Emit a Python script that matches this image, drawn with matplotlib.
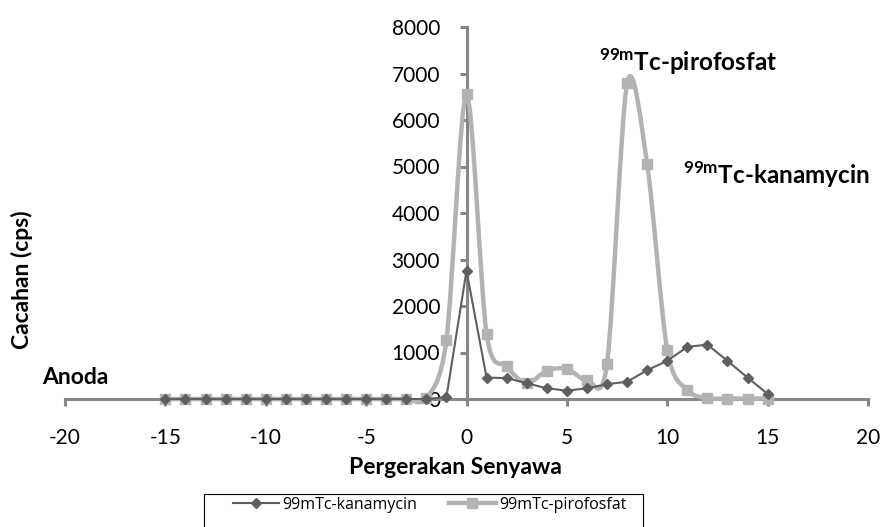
import numpy as np
import matplotlib
matplotlib.use("Agg")
import matplotlib.pyplot as plt
from matplotlib.path import Path
from matplotlib.patches import PathPatch, Rectangle
from matplotlib.lines import Line2D

# ---- data ----
positions = list(range(-15, 16))
kanamycin = [0, 0, 0, 0, 0, 0, 0, 0, 0, 0, 0, 0, 0, 0,
             40, 2760, 460, 450, 340, 230, 180, 230, 320, 370, 620, 820,
             1120, 1170, 820, 460, 110]
pirofosfat = [0, 0, 0, 0, 0, 0, 0, 0, 0, 0, 0, 0, 0,
              20, 1270, 6560, 1400, 700, 340, 610, 650, 410, 760, 6790,
              5050, 1050, 190, 20, 10, 10, 10]
x_ticks = [-20, -15, -10, -5, 0, 5, 10, 15, 20]
y_ticks = [0, 1000, 2000, 3000, 4000, 5000, 6000, 7000, 8000]
label_kan = "99mTc-kanamycin"
label_piro = "99mTc-pirofosfat"

plt.rcParams['font.family'] = ['Lato', 'DejaVu Sans']
plt.rcParams['mathtext.fontset'] = 'custom'
plt.rcParams['mathtext.bf'] = 'Lato:bold'
plt.rcParams['mathtext.rm'] = 'Lato'
plt.rcParams['axes.unicode_minus'] = False

W, H = 884, 527
fig = plt.figure(figsize=(W / 100, H / 100), dpi=100)
ax = fig.add_axes([65 / W, 1 - 399 / H, (868 - 65) / W, (399 - 27) / H])
ax.set_xlim(-20, 20)
ax.set_ylim(0, 8000)

axis_col = '#878787'
for s in ['top', 'right']:
    ax.spines[s].set_visible(False)
ax.spines['left'].set_position(('data', 0))
ax.spines['left'].set_color(axis_col)
ax.spines['bottom'].set_color(axis_col)
ax.spines['left'].set_linewidth(2.2)
ax.spines['bottom'].set_linewidth(2.2)
ax.set_xticks(x_ticks)
ax.set_yticks(y_ticks)
ax.tick_params(axis='x', direction='out', length=5, width=2.2, color=axis_col,
               pad=16, labelsize=15)
ax.tick_params(axis='y', direction='out', length=5, width=2.2, color=axis_col,
               pad=14, labelsize=15)
ax.patch.set_visible(False)

kan_col = '#5f5f5f'
piro_col = '#b3b3b3'

# smoothed pirofosfat curve (Bezier smoothing like Excel)
tension = 0.15
pts = np.column_stack([positions, pirofosfat]).astype(float)
n = len(pts)
verts = [pts[0]]
codes = [Path.MOVETO]
for i in range(n - 1):
    p0 = pts[i - 1] if i > 0 else pts[i]
    p1 = pts[i]
    p2 = pts[i + 1]
    p3 = pts[i + 2] if i + 2 < n else pts[i + 1]
    c1 = p1 + (p2 - p0) * tension
    c2 = p2 - (p3 - p1) * tension
    verts += [c1, c2, p2]
    codes += [Path.CURVE4] * 3
patch = PathPatch(Path(verts, codes), facecolor='none', edgecolor=piro_col,
                  lw=3.2, transform=ax.transData, clip_on=False, zorder=3,
                  capstyle='round', joinstyle='round')
ax.add_patch(patch)
ax.plot(positions, pirofosfat, ls='none', marker='s', ms=7.5, color=piro_col,
        clip_on=False, zorder=4)

ax.plot(positions, kanamycin, '-', color=kan_col, lw=1.5, marker='D', ms=5.5,
        clip_on=False, zorder=5)

# axis labels
fig.text(22 / W, 1 - 280 / H, 'Cacahan (cps)', rotation=90, ha='center',
         va='center', fontsize=16.5, fontweight='bold')
fig.text(455 / W, 1 - 468 / H, 'Pergerakan Senyawa', ha='center',
         va='center', fontsize=16.5, fontweight='bold')

# annotations
fig.text(42 / W, 1 - 378 / H, 'Anoda', ha='left', va='center',
         fontsize=16.5, fontweight='bold')
fig.text(599 / W, 1 - 71 / H, r'$^{\mathbf{99m}}$Tc-pirofosfat', ha='left',
         va='baseline', fontsize=17.5, fontweight='bold')
fig.text(683 / W, 1 - 184 / H, r'$^{\mathbf{99m}}$Tc-kanamycin', ha='left',
         va='baseline', fontsize=17.5, fontweight='bold')

# legend
fig.patches.append(Rectangle((204 / W, -0.05), (643 - 204) / W,
                             1 - 494 / H + 0.05, transform=fig.transFigure,
                             facecolor='white', edgecolor='black', lw=0.8))
handles = [Line2D([], [], color=kan_col, lw=1.5, marker='D', ms=5),
           Line2D([], [], color=piro_col, lw=3.2, marker='s', ms=6.5)]
fig.legend(handles, [label_kan, label_piro], loc='center left',
           bbox_to_anchor=(233 / W, 1 - 505 / H), ncol=2, frameon=False,
           handlelength=2.9, handletextpad=0.2, columnspacing=2.0,
           prop={'family': ['Open Sans', 'DejaVu Sans'], 'size': 11.5},
           borderaxespad=0, borderpad=0)

fig.savefig('out.png', dpi=100)
